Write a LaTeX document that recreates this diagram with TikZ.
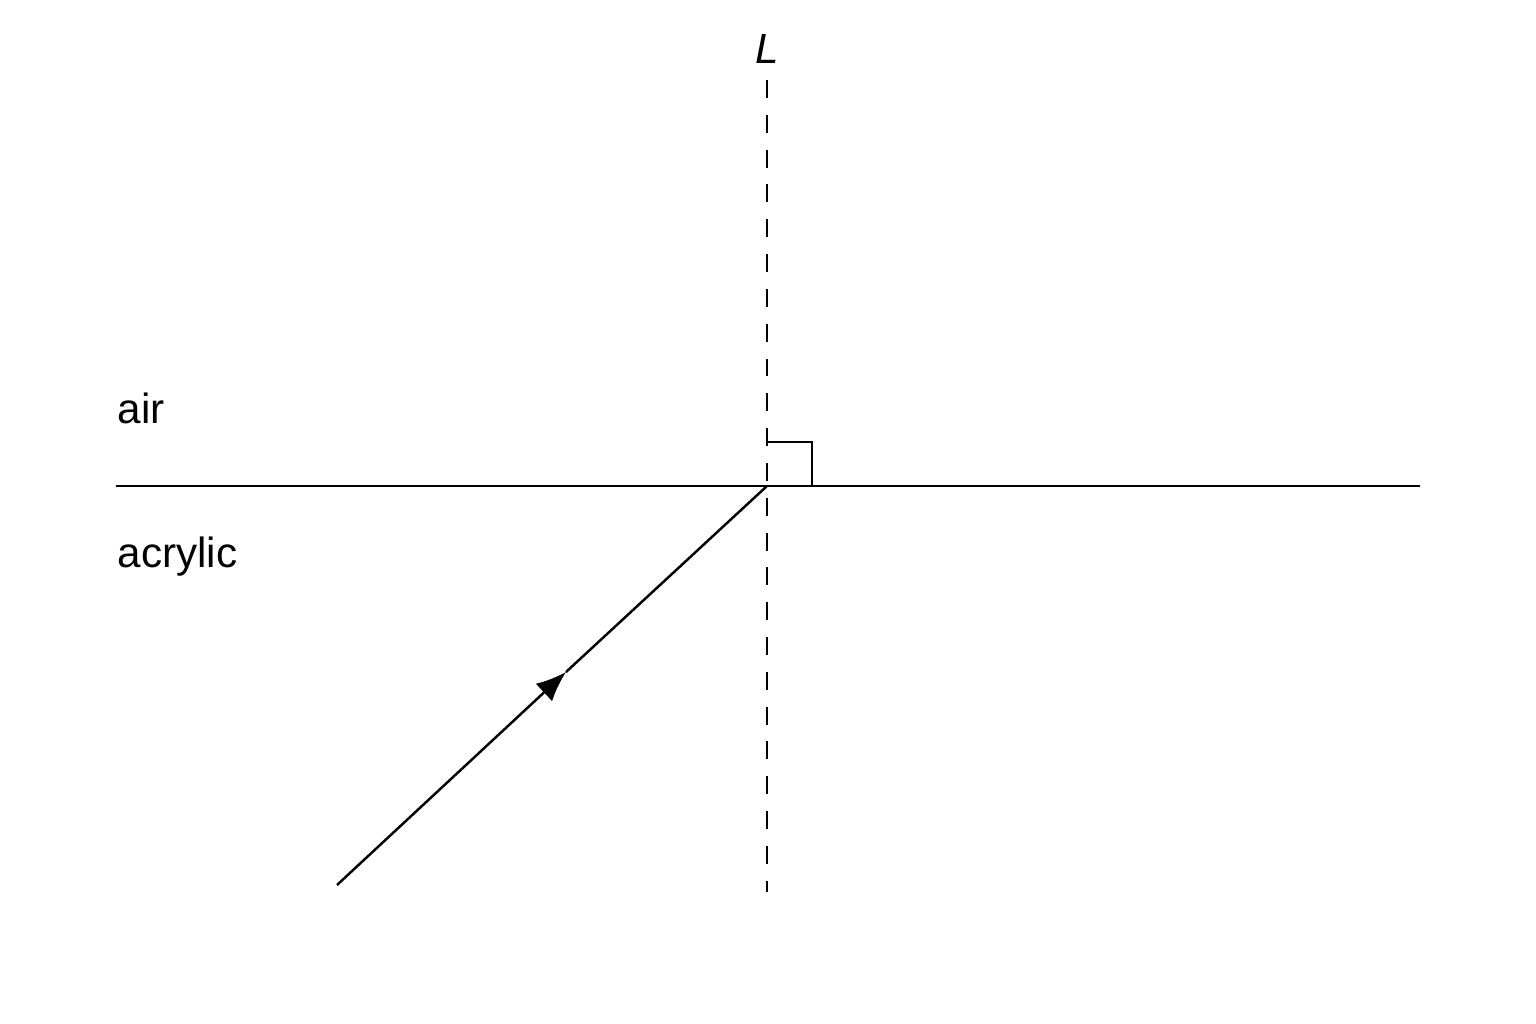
\documentclass[tikz,border=0pt]{standalone}
\usepackage{fontspec}
\setmainfont{Liberation Sans}
\usepackage{tikz}
\usetikzlibrary{positioning,calc,arrows.meta}

\begin{document}
\begin{tikzpicture}[
        x=0.01cm, y=-0.01cm,
        % --- STYLE CHUNG ---
        ray/.style={draw=black, line width=0.7pt},
        normal_line/.style={
            draw=black,
            line width=0.7pt,
            dash pattern=on 5.1pt off 4.8pt
        },
        medium/.style={font=\fontsize{12}{14}\selectfont, anchor=base west, inner sep=0pt}
    ]
        \useasboundingbox (0,0) rectangle (1536,1024);

        % --- DIEM CHINH ---
        \coordinate (O) at (767,486);
        \coordinate (W) at (116,486);
        \coordinate (E) at (1420,486);
        \coordinate (Ltop) at (767,80);
        \coordinate (Lbot) at (767,892);
        \coordinate (src) at (337,885);
        \coordinate (tip) at (566,672);

        % --- NHAN ---
        \node[font=\fontsize{12}{14}\selectfont\itshape, anchor=base, inner sep=0pt] (lbl) at (767,63) {L};
        \node[medium] (air) at (117,423) {air};
        \node[medium] (acr) at (117,567) {acrylic};

        % --- MAT PHAN CACH VA PHAP TUYEN ---
        \draw[ray] (W) -- (E);
        \draw[normal_line] (Ltop) -- (Lbot);
        \draw[ray] ($(O)+(0,-44)$) -- ++(45,0) -- ++(0,44);

        % --- TIA SANG ---
        \draw[ray, -{Latex[length=3mm, width=2.4mm]}] (src) -- (tip);
        \draw[ray] (tip) -- (O);

    \end{tikzpicture}
\end{document}
